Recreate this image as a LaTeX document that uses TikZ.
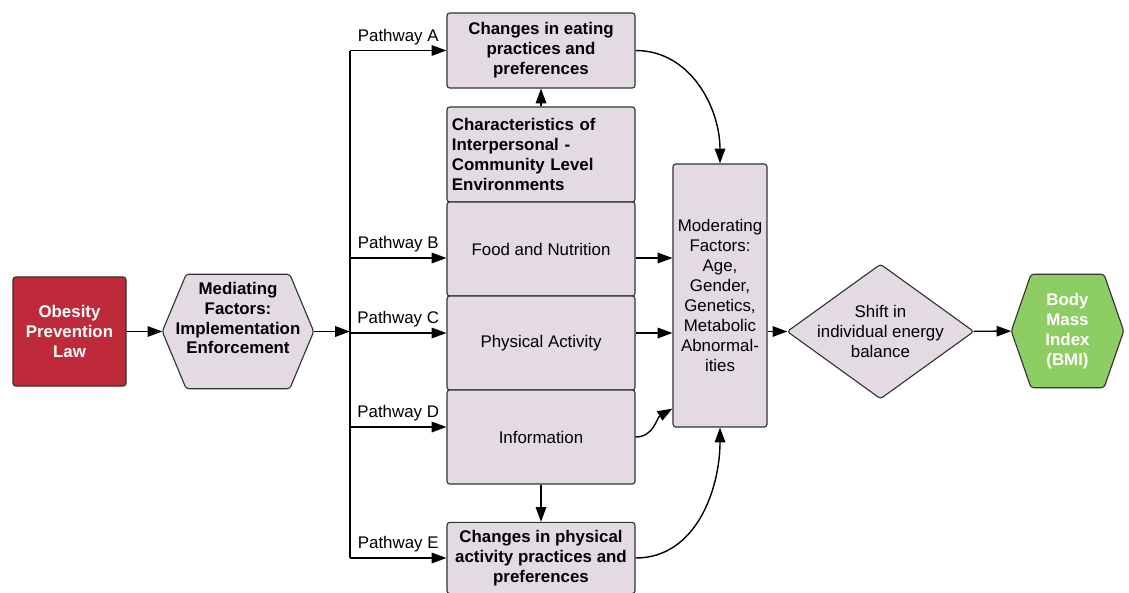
\documentclass[tikz,border=0pt]{standalone}
\usepackage{fontspec}
\setmainfont{Liberation Sans}
\usetikzlibrary{arrows.meta,calc,backgrounds}
\definecolor{boxfill}{HTML}{E4DAE4}
\definecolor{lawred}{HTML}{BF2A3A}
\definecolor{bmigreen}{HTML}{8DCD64}
\definecolor{edge}{HTML}{333333}

\begin{document}
\begin{tikzpicture}[x=0.025cm,y=-0.025cm,
    font=\fontsize{12}{14.2}\selectfont,
    >={Triangle[length=10.5pt,width=7.5pt]},line width=1pt,
    box/.style={draw=edge,fill=boxfill,rounded corners=2pt,line width=0.8pt,align=center,inner sep=3.5pt},
    hbox/.style={box,font=\fontsize{12}{14.2}\selectfont\bfseries},
    btxt/.style={align=center,font=\fontsize{12}{14.2}\selectfont\bfseries},
    shp/.style={draw=edge,line width=0.8pt,rounded corners=2pt},
    pw/.style={midway,above,inner sep=3.5pt}]
    \useasboundingbox (0,0) rectangle (1129,592);

    \node[hbox,fill=lawred,text=white,minimum width=2.825cm,minimum height=2.725cm] (law) at (69.5,331.5) {Obesity\\Prevention\\Law};
    \node[minimum width=3.75cm,minimum height=2.825cm] (med) at (238,331.5) {};
    \node[btxt] (medtxt) at (238,318) {Mediating\\Factors:\\Implementation\\Enforcement};

    \node[hbox,minimum width=4.7cm,minimum height=1.875cm] (eat) at (541,50.5) {Changes in eating\\practices and\\preferences};
    \node[hbox,align=left,text width=4.45cm,minimum width=4.7cm,minimum height=2.375cm] (chr) at (541,154.5) {Characteristics of\\Interpersonal -\\Community Level\\Environments};
    \node[box,minimum width=4.7cm,minimum height=2.35cm] (food) at (541,249) {Food and Nutrition};
    \node[box,minimum width=4.7cm,minimum height=2.35cm] (phys) at (541,343) {Physical Activity};
    \node[box,minimum width=4.7cm,minimum height=2.35cm] (info) at (541,437) {Information};
    \node[hbox,minimum width=4.7cm,minimum height=1.78cm] (pact) at (541,558) {Changes in physical\\activity practices and\\preferences};

    \node[box,inner sep=2pt,minimum width=2.35cm,minimum height=6.575cm] (mod) at (720,295.5) {Moderating\\Factors:\\Age,\\Gender,\\Genetics,\\Metabolic\\Abnormal-\\ities};
    \node[align=center,inner sep=0pt,minimum width=4.625cm,minimum height=3.325cm] (shift) at (880.5,331.5) {Shift in\\individual energy\\balance};
    \node[btxt,text=white,minimum width=2.775cm,minimum height=2.8cm] (bmi) at (1067.5,331) {Body\\Mass\\Index\\(BMI)};

    \begin{scope}[on background layer]
        \filldraw[shp,fill=boxfill] (med.west) -- ([xshift=17pt]med.north west) -- ([xshift=-17pt]med.north east) -- (med.east) -- ([xshift=-17pt]med.south east) -- ([xshift=17pt]med.south west) -- cycle;
        \filldraw[shp,fill=boxfill] (shift.west) -- (shift.north) -- (shift.east) -- (shift.south) -- cycle;
        \filldraw[shp,fill=bmigreen] (bmi.west) -- ([xshift=14pt]bmi.north west) -- ([xshift=-14pt]bmi.north east) -- (bmi.east) -- ([xshift=-14pt]bmi.south east) -- ([xshift=14pt]bmi.south west) -- cycle;
    \end{scope}

    \coordinate (split) at (350,331.5);
    \coordinate (pB) at ($(food.west)+(0,9)$);
    \coordinate (pC) at ($(phys.west)+(0,-10)$);
    \coordinate (pD) at ($(info.west)+(0,-10)$);

    \draw[->] (law) -- (med);
    \draw[->] (med) -- (split);
    \draw (split |- eat.west) -- (split |- pact.west);
    \draw[->] (split |- eat.west) -- node[pw] {Pathway A} (eat.west);
    \draw[->] (split |- pB) -- node[pw] {Pathway B} (pB);
    \draw[->] (split |- pC) -- node[pw] {Pathway C} (pC);
    \draw[->] (split |- pD) -- node[pw] {Pathway D} (pD);
    \draw[->] (split |- pact.west) -- node[pw] {Pathway E} (pact.west);

    \draw[->] (chr) -- (eat);
    \draw[->] (info) -- (pact);
    \draw[->] (pB -| food.east) -- (pB -| mod.west);
    \draw[->] (pC -| phys.east) -- (pC -| mod.west);
    \draw[->] (info.east) to[out=0,in=210] ($(mod.south west)+(0,-19)$);
    \draw[->] (eat.east) to[out=0,in=90] (mod.north);
    \draw[->] (pact.east) to[out=0,in=-90] (mod.south);

    \draw[->] (mod.east |- shift) -- (shift.west);
    \draw[->] (shift) -- (bmi);
\end{tikzpicture}
\end{document}
